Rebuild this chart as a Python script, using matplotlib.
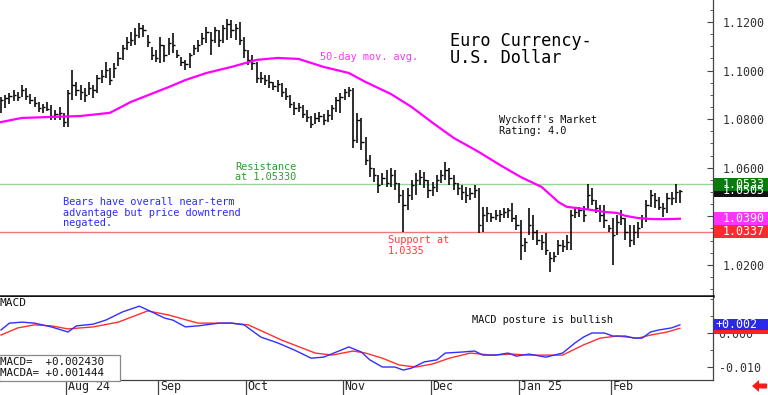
import matplotlib
matplotlib.use("Agg")
import matplotlib.pyplot as plt
from matplotlib.patches import Rectangle, Polygon
from matplotlib.ticker import FixedLocator, MultipleLocator, FormatStrFormatter
import matplotlib.transforms as mtransforms
import numpy as np
import pandas as pd

W, H = 768, 395

# trading days shown (Christmas and New Year's Day are missing)
dates = pd.bdate_range("2024-07-10", "2025-02-25")
dates = dates[~dates.isin(pd.to_datetime(["2024-12-25", "2025-01-01"]))]

highs = [
    1.0891, 1.0900, 1.0908, 1.0920, 1.0912, 1.0941, 1.0928, 1.0904, 1.0891, 1.0871,
    1.0863, 1.0871, 1.0858, 1.0838, 1.0850, 1.0826, 1.0920, 1.1002, 1.0953, 1.0941,
    1.0928, 1.0953, 1.0941, 1.0982, 1.1002, 1.1035, 1.1011, 1.1031, 1.1077, 1.1105,
    1.1138, 1.1159, 1.1175, 1.1196, 1.1188, 1.1146, 1.1097, 1.1085, 1.1138, 1.1105,
    1.1134, 1.1155, 1.1085, 1.1056, 1.1044, 1.1072, 1.1105, 1.1126, 1.1155, 1.1179,
    1.1159, 1.1179, 1.1167, 1.1188, 1.1212, 1.1208, 1.1192, 1.1200, 1.1138, 1.1085,
    1.1064, 1.1035, 1.0994, 1.0982, 1.0982, 1.0953, 1.0961, 1.0949, 1.0928, 1.0900,
    1.0871, 1.0867, 1.0858, 1.0838, 1.0813, 1.0826, 1.0830, 1.0821, 1.0838, 1.0858,
    1.0891, 1.0908, 1.0924, 1.0932, 1.0928, 1.0826, 1.0805, 1.0727, 1.0653, 1.0599,
    1.0570, 1.0579, 1.0591, 1.0599, 1.0591, 1.0537, 1.0509, 1.0517, 1.0550, 1.0579,
    1.0591, 1.0583, 1.0550, 1.0542, 1.0570, 1.0591, 1.0624, 1.0599, 1.0570, 1.0537,
    1.0529, 1.0521, 1.0517, 1.0529, 1.0517, 1.0439, 1.0439, 1.0414, 1.0426, 1.0426,
    1.0435, 1.0435, 1.0455, 1.0406, 1.0385, 1.0311, 1.0435, 1.0406, 1.0344, 1.0323,
    1.0332, 1.0254, 1.0254, 1.0303, 1.0303, 1.0323, 1.0426, 1.0435, 1.0439, 1.0443,
    1.0533, 1.0517, 1.0467, 1.0447, 1.0447, 1.0365, 1.0393, 1.0406, 1.0426, 1.0393,
    1.0365, 1.0365, 1.0377, 1.0406, 1.0467, 1.0509, 1.0496, 1.0480, 1.0455, 1.0496,
    1.0500, 1.0533, 1.0509,
]
lows = [
    1.0826, 1.0846, 1.0863, 1.0875, 1.0875, 1.0891, 1.0879, 1.0863, 1.0850, 1.0830,
    1.0826, 1.0834, 1.0797, 1.0797, 1.0797, 1.0768, 1.0768, 1.0879, 1.0895, 1.0879,
    1.0871, 1.0900, 1.0887, 1.0908, 1.0949, 1.0970, 1.0941, 1.0970, 1.1019, 1.1044,
    1.1085, 1.1101, 1.1105, 1.1134, 1.1138, 1.1097, 1.1044, 1.1035, 1.1031, 1.1035,
    1.1064, 1.1072, 1.1052, 1.1019, 1.1002, 1.1011, 1.1064, 1.1077, 1.1105, 1.1114,
    1.1064, 1.1114, 1.1097, 1.1114, 1.1126, 1.1134, 1.1126, 1.1105, 1.1052, 1.1023,
    1.1002, 1.0949, 1.0949, 1.0941, 1.0928, 1.0920, 1.0912, 1.0891, 1.0879, 1.0846,
    1.0817, 1.0830, 1.0805, 1.0788, 1.0764, 1.0780, 1.0788, 1.0776, 1.0788, 1.0797,
    1.0830, 1.0826, 1.0879, 1.0891, 1.0681, 1.0702, 1.0673, 1.0612, 1.0562, 1.0542,
    1.0496, 1.0529, 1.0521, 1.0521, 1.0509, 1.0455, 1.0335, 1.0426, 1.0467, 1.0488,
    1.0529, 1.0517, 1.0476, 1.0484, 1.0500, 1.0537, 1.0550, 1.0529, 1.0509, 1.0488,
    1.0467, 1.0455, 1.0467, 1.0476, 1.0332, 1.0336, 1.0377, 1.0377, 1.0385, 1.0377,
    1.0393, 1.0393, 1.0377, 1.0344, 1.0221, 1.0254, 1.0323, 1.0303, 1.0282, 1.0262,
    1.0241, 1.0171, 1.0212, 1.0241, 1.0254, 1.0262, 1.0262, 1.0393, 1.0398, 1.0377,
    1.0426, 1.0447, 1.0414, 1.0377, 1.0352, 1.0336, 1.0200, 1.0323, 1.0365, 1.0303,
    1.0274, 1.0282, 1.0311, 1.0352, 1.0377, 1.0439, 1.0435, 1.0426, 1.0398, 1.0414,
    1.0447, 1.0455, 1.0455,
]
closes = [
    1.0879, 1.0887, 1.0895, 1.0900, 1.0891, 1.0920, 1.0895, 1.0879, 1.0867, 1.0846,
    1.0850, 1.0842, 1.0813, 1.0821, 1.0826, 1.0788, 1.0908, 1.0941, 1.0920, 1.0912,
    1.0900, 1.0928, 1.0920, 1.0970, 1.0978, 1.1002, 1.0961, 1.1011, 1.1052, 1.1093,
    1.1118, 1.1126, 1.1146, 1.1175, 1.1167, 1.1118, 1.1064, 1.1052, 1.1105, 1.1064,
    1.1114, 1.1105, 1.1064, 1.1035, 1.1027, 1.1064, 1.1093, 1.1105, 1.1134, 1.1159,
    1.1126, 1.1167, 1.1126, 1.1175, 1.1192, 1.1167, 1.1175, 1.1126, 1.1085, 1.1044,
    1.1031, 1.0970, 1.0970, 1.0961, 1.0953, 1.0937, 1.0945, 1.0912, 1.0895, 1.0863,
    1.0846, 1.0850, 1.0821, 1.0809, 1.0780, 1.0805, 1.0813, 1.0797, 1.0817, 1.0846,
    1.0879, 1.0891, 1.0912, 1.0920, 1.0714, 1.0797, 1.0706, 1.0632, 1.0599, 1.0570,
    1.0529, 1.0558, 1.0537, 1.0570, 1.0537, 1.0488, 1.0447, 1.0488, 1.0529, 1.0550,
    1.0562, 1.0550, 1.0509, 1.0521, 1.0550, 1.0570, 1.0591, 1.0558, 1.0537, 1.0517,
    1.0500, 1.0488, 1.0496, 1.0509, 1.0365, 1.0406, 1.0414, 1.0398, 1.0406, 1.0410,
    1.0418, 1.0426, 1.0393, 1.0365, 1.0282, 1.0295, 1.0365, 1.0336, 1.0303, 1.0295,
    1.0262, 1.0229, 1.0237, 1.0282, 1.0278, 1.0295, 1.0406, 1.0418, 1.0426, 1.0406,
    1.0488, 1.0467, 1.0435, 1.0406, 1.0385, 1.0352, 1.0323, 1.0377, 1.0393, 1.0336,
    1.0303, 1.0336, 1.0352, 1.0393, 1.0447, 1.0488, 1.0467, 1.0439, 1.0435, 1.0476,
    1.0476, 1.0500, 1.0505,
]

# 50-day moving average, read at sample bars
ma_idx = [0, 5, 12, 19, 26, 31, 40, 44, 49, 55, 61, 66, 71, 77, 83, 87, 93, 98, 103, 108,
          114, 119, 124, 129, 133, 135, 137, 141, 144, 147, 149, 152, 155, 158, 162]
ma_vals = [1.0788, 1.0805, 1.0809, 1.0813, 1.0826, 1.0871, 1.0932, 1.0961, 1.0990, 1.1015,
           1.1044, 1.1052, 1.1048, 1.1015, 1.0990, 1.0953, 1.0904, 1.0850, 1.0785, 1.0723,
           1.0665, 1.0612, 1.0562, 1.0521, 1.0459, 1.0439, 1.0435, 1.0426, 1.0418, 1.0414,
           1.0402, 1.0393, 1.0389, 1.0388, 1.0390]

# MACD (blue) and its average (red)
macd_idx = [0, 2, 5, 8, 12, 16, 18, 22, 25, 29, 33, 36, 39, 41, 44, 47, 52, 55, 58, 62,
            66, 70, 74, 77, 80, 83, 86, 88, 91, 94, 96, 98, 101, 104, 106, 110, 113, 115, 118, 121,
            123, 126, 130, 134, 137, 139, 141, 144, 146, 149, 151, 153, 155, 157, 160, 162]
macd_vals = [0.0009, 0.0029, 0.0032, 0.0029, 0.0018, 0.0003, 0.0021, 0.0026, 0.0038, 0.0062,
             0.0079, 0.0062, 0.0044, 0.0038, 0.0018, 0.0021, 0.0029, 0.0029, 0.0024, -0.0012,
             -0.0029, -0.0050, -0.0074, -0.0071, -0.0056, -0.0041, -0.0056, -0.0079, -0.0100, -0.0100,
             -0.0109, -0.0103, -0.0085, -0.0079, -0.0059, -0.0056, -0.0053, -0.0065, -0.0065, -0.0059,
             -0.0068, -0.0062, -0.0071, -0.0059, -0.0029, -0.0012, 0.0000, 0.0000, -0.0009, -0.0009,
             -0.0015, -0.0015, 0.0003, 0.0009, 0.0015, 0.0024]
sig_idx = [0, 4, 8, 12, 16, 22, 28, 35, 40, 47, 55, 59, 67, 75, 79, 84, 87, 91, 95, 99,
           103, 107, 112, 117, 122, 126, 134, 139, 143, 147, 152, 155, 159, 162]
sig_vals = [-0.0006, 0.0015, 0.0024, 0.0021, 0.0012, 0.0018, 0.0032, 0.0065, 0.0053, 0.0029,
            0.0029, 0.0024, -0.0021, -0.0059, -0.0065, -0.0053, -0.0059, -0.0074, -0.0094, -0.0100,
            -0.0091, -0.0074, -0.0059, -0.0065, -0.0062, -0.0065, -0.0065, -0.0035, -0.0015, -0.0009,
            -0.0015, -0.0006, 0.0003, 0.0014]

resistance = 1.0533
support = 1.0337
month_names = ["Aug 24", "Sep", "Oct", "Nov", "Dec", "Jan 25", "Feb"]
price_ticks = [1.02, 1.04, 1.06, 1.08, 1.10, 1.12]
macd_ticks = [0.0, -0.010]

plt.rcParams["font.family"] = ["DejaVu Sans Mono", "DejaVu Sans"]

fig = plt.figure(figsize=(W / 100, H / 100), dpi=100)
fig.patch.set_facecolor("white")


def fx(x):
    return x / W


def fy(y):
    return 1 - y / H


ax = fig.add_axes([0, fy(296), fx(713), 296 / H])
ax2 = fig.add_axes([0, fy(380), fx(713), 83 / H])

x = np.arange(len(dates))
xmin, xmax = -0.24, 169.9

# ---- price panel ----
ax.vlines(x, lows, highs, color="black", lw=1.15, zorder=3)
ax.hlines(closes, x, x + 0.55, color="black", lw=1.0, zorder=3)
ax.axhline(resistance, color="#9ad69a", lw=1.0, zorder=1)
ax.axhline(support, color="#f07a7a", lw=1.0, zorder=1)
ax.plot(ma_idx, ma_vals, color="#ff00ff", lw=1.6, zorder=4)

ax.set_xlim(xmin, xmax)
ax.set_ylim(1.0072, 1.12905)
ax.set_xticks([])
ax.yaxis.tick_right()
ax.yaxis.set_major_locator(FixedLocator(price_ticks))
ax.yaxis.set_major_formatter(FormatStrFormatter("%.4f"))
ax.yaxis.set_minor_locator(MultipleLocator(0.005))
ax.tick_params(axis="y", which="major", direction="in", length=4, width=0.8,
               pad=7, labelsize=8.4, labelcolor="#333333", color="#444444")
ax.tick_params(axis="y", which="minor", direction="in", length=2, width=0.6, color="#444444")
for s in ["top", "left"]:
    ax.spines[s].set_visible(False)
ax.spines["bottom"].set_linewidth(1.8)
ax.spines["bottom"].set_color("#111111")
ax.spines["right"].set_color("#444444")
ax.spines["right"].set_linewidth(0.9)

# ---- MACD panel ----
ax2.plot(sig_idx, sig_vals, color="#ff3030", lw=1.0, zorder=3)
ax2.plot(macd_idx, macd_vals, color="#3030ff", lw=1.0, zorder=4)
ax2.set_xlim(xmin, xmax)
ax2.set_ylim(-0.01382, 0.01059)
ax2.yaxis.tick_right()
ax2.yaxis.set_major_locator(FixedLocator(macd_ticks))
ax2.yaxis.set_major_formatter(FormatStrFormatter("%.3f"))
ax2.yaxis.set_minor_locator(MultipleLocator(0.005))
ax2.tick_params(axis="y", which="major", direction="in", length=4, width=0.8,
                pad=4, labelsize=8.4, labelcolor="#333333", color="#444444")
ax2.tick_params(axis="y", which="minor", direction="in", length=2, width=0.6, color="#444444")

month_pos = []
for m in [(2024, 8), (2024, 9), (2024, 10), (2024, 11), (2024, 12), (2025, 1), (2025, 2)]:
    first = np.where((dates.year == m[0]) & (dates.month == m[1]))[0][0]
    month_pos.append(first - 0.5)
ax2.set_xticks(month_pos)
ax2.tick_params(axis="x", direction="out", length=11, width=0.9, color="#444444",
                labelbottom=False)
trans = mtransforms.blended_transform_factory(ax2.transData, ax2.transAxes)
for pos, name in zip(month_pos, month_names):
    ax2.text(pos + 0.4, -0.075, name, transform=trans, ha="left", va="center",
             fontsize=8.4, color="#222222", clip_on=False)
for s in ["top", "left"]:
    ax2.spines[s].set_visible(False)
for s in ["bottom", "right"]:
    ax2.spines[s].set_color("#444444")
    ax2.spines[s].set_linewidth(0.9)

# ---- annotations ----
fig.text(fx(450), fy(46.5), "Euro Currency-", fontsize=12.2, color="black", va="baseline")
fig.text(fx(450), fy(63), "U.S. Dollar", fontsize=12.2, color="black", va="baseline")
fig.text(fx(320), fy(57), "50-day mov. avg.", fontsize=7.4, color="#ff33ff", va="center")
fig.text(fx(499), fy(120), "Wyckoff's Market", fontsize=7.4, color="#111111", va="center")
fig.text(fx(499), fy(130.5), "Rating: 4.0", fontsize=7.4, color="#111111", va="center")
fig.text(fx(235), fy(167), "Resistance", fontsize=7.4, color="#2e9e2e", va="center")
fig.text(fx(235), fy(177.5), "at 1.05330", fontsize=7.4, color="#2e9e2e", va="center")
for i, line in enumerate(["Bears have overall near-term",
                          "advantage but price downtrend",
                          "negated."]):
    fig.text(fx(63), fy(202 + 10.5 * i), line, fontsize=7.4, color="#2b2bff", va="center")
fig.text(fx(388), fy(240), "Support at", fontsize=7.4, color="#ff3b3b", va="center")
fig.text(fx(388), fy(250.5), "1.0335", fontsize=7.4, color="#ff3b3b", va="center")
fig.text(fx(472), fy(320), "MACD posture is bullish", fontsize=7.4, color="#111111", va="center")
fig.text(fx(0), fy(303), "MACD", fontsize=8, color="#111111", va="center")

# MACD value box
fig.add_artist(Rectangle((fx(-1), fy(381)), fx(121), 26 / H, transform=fig.transFigure,
                         facecolor="white", edgecolor="#888888", lw=0.9, zorder=6))
fig.text(fx(0), fy(362), "MACD=  +0.002430", fontsize=7.8, color="#111111",
         va="center", zorder=7)
fig.text(fx(0), fy(373.5), "MACDA= +0.001444", fontsize=7.8, color="#111111",
         va="center", zorder=7)


def side_label(axis, val, text, face, h=13, x0=714, tx=723):
    yd = axis.transData.transform((0, val))[1]
    fig.add_artist(Rectangle((fx(x0), (yd - h / 2) / H), fx(W - x0), h / H,
                             transform=fig.transFigure, facecolor=face,
                             edgecolor="none", zorder=8))
    if text:
        fig.text(fx(tx), yd / H, text, fontsize=8.4, color="white", va="center",
                 ha="left", zorder=9)


side_label(ax, closes[-1], "%.4f" % closes[-1], "#111111")
side_label(ax, resistance, "%.4f" % resistance, "#0d7a0d")
side_label(ax, ma_vals[-1], "%.4f" % ma_vals[-1], "#ff33ff")
side_label(ax, support, "%.4f" % support, "#ff2a2a")
side_label(ax2, sig_vals[-1], "", "#ff2020", h=11)
side_label(ax2, macd_vals[-1], "+%.3f" % macd_vals[-1], "#2a2ae6", h=11, tx=716)

# red arrow bottom right
arrow_px = [(752, 386), (759, 380), (759, 383.5), (767, 383.5),
            (767, 388.5), (759, 388.5), (759, 392)]
fig.add_artist(Polygon([(fx(a), fy(b)) for a, b in arrow_px], closed=True,
                       transform=fig.transFigure, facecolor="#ff1a1a",
                       edgecolor="none", zorder=8))

fig.savefig("out.png", dpi=100, facecolor="white")
